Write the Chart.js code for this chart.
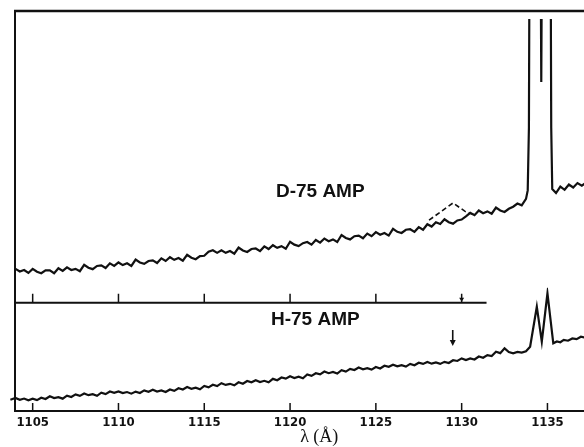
<!DOCTYPE html>
<html>
<head>
<meta charset="utf-8">
<script src="https://cdn.jsdelivr.net/npm/chart.js@4/dist/chart.umd.min.js"></script>
<style>
  html, body { margin: 0; padding: 0; background: #fff; }
  #wrap { width: 584px; height: 447px; }
</style>
</head>
<body>
<div id="wrap"><canvas id="spec" width="584" height="447"></canvas></div>
<script>
// wavelength scan: step of the recorded samples (Å)
var scanStep = 0.25;

// D-75 AMP trace (upper panel, arbitrary units 0..100), 1104.00 .. 1133.75 Å
var dStart = 1104.0;
var dScan = [
  11.6, 10.7, 11.2, 10.2,  11.6, 10.6, 10.1, 11.1,  11.1, 10.1, 11.8, 10.9,
  12.1, 11.2, 11.6, 10.8,  13.0, 12.0, 11.5, 12.6,  12.8, 11.9, 13.5, 12.6,
  13.8, 12.9, 13.5, 12.6,  14.8, 13.8, 13.3, 14.3,  14.5, 13.6, 15.2, 14.3,
  15.6, 14.7, 15.3, 14.4,  16.4, 15.4, 14.9, 16.0,  16.1, 17.5, 18.0, 17.1,
  18.0, 17.1, 17.7, 16.8,  18.9, 17.9, 17.4, 18.4,  18.6, 17.7, 19.3, 18.4,
  19.7, 18.8, 19.4, 18.5,  20.9, 19.9, 19.4, 20.4,  20.8, 19.9, 21.5, 20.6,
  22.0, 21.1, 21.7, 20.8,  23.2, 22.2, 21.7, 22.8,  23.0, 22.1, 23.7, 22.8,
  24.2, 23.3, 23.9, 23.0,  25.3, 24.3, 23.9, 25.0,  25.2, 24.3, 25.9, 25.0,
  26.9, 26.1, 27.6, 27.0,  28.6, 27.6, 27.1, 28.2,  28.5, 29.6, 30.8, 30.0,
  31.6, 30.7, 31.3, 30.5,  32.6, 31.6, 31.1, 32.2,  32.9, 34.0, 33.4, 35.6
];
// saturated doublet and the trace beyond it
var dPeak = [
  [1133.85, 38.5], [1133.92, 60], [1133.97, 150], [1134.58, 150], [1134.64, 75.7],
  [1134.70, 150], [1135.17, 150], [1135.22, 60], [1135.28, 39.0], [1135.5, 37.6],
  [1135.75, 39.8], [1136.0, 38.7], [1136.25, 40.5], [1136.5, 39.5], [1136.75, 41.0],
  [1137.0, 40.1], [1137.25, 41.2]
];
// dashed bump sketched over the D trace
var dDash = [[1128.1, 28.3], [1129.5, 34.2], [1130.2, 31.3], [1130.7, 30.2]];

// H-75 AMP trace (lower panel, arbitrary units 0..100), 1104.00 .. 1133.75 Å
var hLead = [[1103.4, 11.3], [1103.7, 10.4]];
var hStart = 1104.0;
var hScan = [
  12.0, 10.4, 11.5,  9.9,  11.3, 10.0, 12.3, 11.1,  13.6, 11.9, 12.8, 11.4,
  14.2, 12.9, 15.3, 14.0,  16.2, 14.6, 15.5, 14.0,  16.9, 15.6, 18.0, 16.8,
  18.1, 16.5, 17.5, 16.0,  17.9, 16.6, 19.0, 17.8,  19.6, 18.0, 19.0, 17.5,
  19.9, 18.6, 21.0, 19.9,  22.1, 20.5, 21.5, 20.0,  23.1, 21.8, 24.2, 23.0,
  25.7, 24.1, 25.1, 23.7,  26.5, 25.2, 27.7, 26.5,  28.4, 26.8, 27.9, 26.5,
  29.7, 28.4, 30.9, 29.9,  32.1, 30.5, 31.6, 30.2,  33.7, 32.4, 34.9, 33.8,
  36.5, 34.9, 36.0, 34.6,  37.7, 36.4, 38.9, 37.8,  40.1, 38.5, 39.6, 38.2,
  40.6, 39.3, 41.8, 40.8,  42.8, 41.2, 42.3, 41.0,  43.5, 42.2, 44.6, 43.5,
  45.3, 43.7, 44.8, 43.5,  45.4, 44.3, 46.9, 46.2,  48.6, 47.0, 48.5, 47.6,
  50.3, 49.2, 51.6, 50.8,  54.7, 53.4, 57.9, 54.5,  53.3, 54.6, 54.0, 55.2
];
// the resolved doublet and the trace beyond it
var hPeak = [
  [1133.99, 59.4], [1134.38, 96.3], [1134.67, 64.0], [1135.0, 108.7], [1135.34, 62.5],
  [1135.55, 64.2], [1135.75, 63.5], [1135.95, 65.6], [1136.2, 64.9], [1136.45, 67.0],
  [1136.7, 66.4], [1136.95, 68.6], [1137.2, 67.8]
];

var xMin = 1103.97;
var xMax = 1137.13;
var midAxisEnd = 1131.45;
var midMarker = 1130;
var dLabel = { text: 'D-75 AMP', x: 1121.76, y: 38 };
var hLabel = { text: 'H-75 AMP', x: 1121.47, y: 84 };
var hArrow = { x: 1129.48, from: 74.8, to: 60 };
var xTitle = { text: 'λ (Å)', x: 1121.7 };

function scanPoints(start, vals) {
  return vals.map(function (v, i) { return { x: start + i * scanStep, y: v }; });
}
function pairPoints(list) {
  return list.map(function (p) { return { x: p[0], y: p[1] }; });
}

var ink = '#111';

var decor = {
  id: 'decor',
  afterDatasetsDraw: function (chart) {
    var ctx = chart.ctx;
    var a = chart.chartArea;
    var xs = chart.scales.x;
    var yTop = chart.scales.yTop;
    var yBot = chart.scales.yBot;
    var midY = yTop.bottom;
    var endX = xs.getPixelForValue(midAxisEnd);
    ctx.save();
    ctx.strokeStyle = ink;
    ctx.fillStyle = ink;
    ctx.lineCap = 'butt';

    // frame: top line, left axis, middle axis, bottom axis
    ctx.lineWidth = 2.5;
    ctx.beginPath();
    ctx.moveTo(a.left - 1, a.top); ctx.lineTo(a.right, a.top);
    ctx.stroke();
    ctx.lineWidth = 2;
    ctx.beginPath();
    ctx.moveTo(a.left, a.top); ctx.lineTo(a.left, a.bottom + 1);
    ctx.moveTo(a.left, midY); ctx.lineTo(endX, midY);
    ctx.moveTo(a.left - 1, a.bottom); ctx.lineTo(a.right, a.bottom);
    ctx.stroke();

    // inward ticks
    ctx.lineWidth = 1.5;
    ctx.beginPath();
    xs.ticks.forEach(function (t) {
      var px = xs.getPixelForValue(t.value);
      if (px < a.left || px > a.right) return;
      ctx.moveTo(px, a.bottom); ctx.lineTo(px, a.bottom - 8);
      if (t.value <= midAxisEnd) {
        ctx.moveTo(px, midY); ctx.lineTo(px, midY - 9);
      }
    });
    ctx.stroke();

    // small arrowhead on the middle-axis marker
    var mx = xs.getPixelForValue(midMarker);
    ctx.beginPath();
    ctx.moveTo(mx - 2.5, midY - 5); ctx.lineTo(mx + 2.5, midY - 5); ctx.lineTo(mx, midY - 1);
    ctx.closePath();
    ctx.fill();

    // arrow in the H panel
    var ax = xs.getPixelForValue(hArrow.x);
    var ay0 = yBot.getPixelForValue(hArrow.from);
    var ay1 = yBot.getPixelForValue(hArrow.to);
    ctx.lineWidth = 1.6;
    ctx.beginPath();
    ctx.moveTo(ax, ay0); ctx.lineTo(ax, ay1 - 5);
    ctx.stroke();
    ctx.beginPath();
    ctx.moveTo(ax - 3, ay1 - 6); ctx.lineTo(ax + 3, ay1 - 6); ctx.lineTo(ax, ay1);
    ctx.closePath();
    ctx.fill();

    // panel labels
    ctx.font = 'bold 19px "Liberation Sans", Arial, sans-serif';
    ctx.textAlign = 'center';
    ctx.textBaseline = 'middle';
    ctx.fillText(dLabel.text, xs.getPixelForValue(dLabel.x), yTop.getPixelForValue(dLabel.y));
    ctx.fillText(hLabel.text, xs.getPixelForValue(hLabel.x), yBot.getPixelForValue(hLabel.y));

    // axis title
    ctx.font = '18px "Liberation Serif", "Times New Roman", serif';
    ctx.textBaseline = 'alphabetic';
    ctx.fillText(xTitle.text, xs.getPixelForValue(xTitle.x), 442);
    ctx.restore();
  }
};

new Chart(document.getElementById('spec'), {
  type: 'line',
  data: {
    datasets: [{
      label: 'D-75 AMP',
      data: scanPoints(dStart, dScan).concat(pairPoints(dPeak)),
      yAxisID: 'yTop',
      borderColor: ink,
      borderWidth: 2.2,
      pointRadius: 0,
      tension: 0,
      clip: { left: 0, top: -8, right: 0, bottom: 0 }
    }, {
      label: 'D-75 sketch',
      data: pairPoints(dDash),
      yAxisID: 'yTop',
      borderColor: ink,
      borderWidth: 1.6,
      borderDash: [5, 3],
      pointRadius: 0,
      tension: 0
    }, {
      label: 'H-75 AMP',
      data: pairPoints(hLead).concat(scanPoints(hStart, hScan)).concat(pairPoints(hPeak)),
      yAxisID: 'yBot',
      borderColor: ink,
      borderWidth: 2.2,
      pointRadius: 0,
      tension: 0,
      clip: { left: 12, top: 15, right: 0, bottom: 0 }
    }]
  },
  options: {
    responsive: false,
    animation: false,
    devicePixelRatio: 1,
    layout: { padding: { left: 15, top: 11, right: 0, bottom: 0 } },
    plugins: {
      legend: { display: false },
      tooltip: { enabled: false }
    },
    scales: {
      x: {
        type: 'linear',
        min: xMin,
        max: xMax,
        grid: { display: false, drawTicks: false },
        border: { display: false },
        afterFit: function (s) { s.height = 36; },
        ticks: {
          stepSize: 5,
          includeBounds: false,
          autoSkip: false,
          maxRotation: 0,
          padding: 4,
          color: ink,
          font: { family: '"Liberation Sans Narrow", "DejaVu Sans Condensed", sans-serif', size: 13, weight: 'bold' },
          callback: function (v) { return String(v); }
        }
      },
      yBot: {
        type: 'linear',
        display: false,
        min: 0,
        max: 100,
        stack: 'panels',
        stackWeight: 108.3
      },
      yTop: {
        type: 'linear',
        display: false,
        min: 0,
        max: 100,
        stack: 'panels',
        stackWeight: 291.7
      }
    }
  },
  plugins: [decor]
});
</script>
</body>
</html>
